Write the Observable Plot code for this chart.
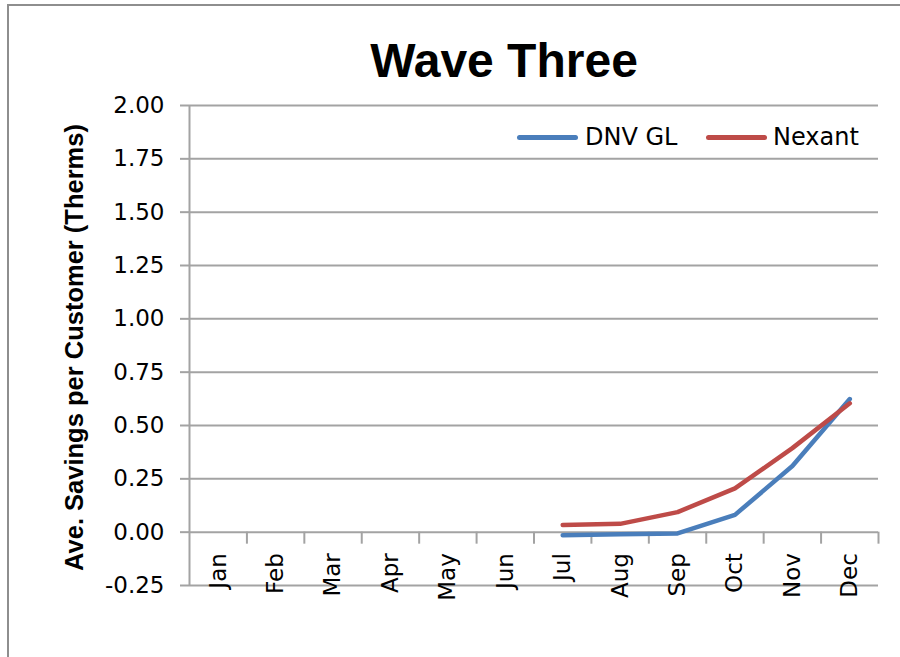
<!DOCTYPE html>
<html>
<head>
<meta charset="utf-8">
<script src="https://cdn.jsdelivr.net/npm/d3@7"></script>
<script src="https://cdn.jsdelivr.net/npm/@observablehq/plot@0.6"></script>
<style>
  html, body { margin: 0; padding: 0; background: #fff; }
  #wrap { position: relative; width: 900px; height: 657px; overflow: hidden; }
  #frame { position: absolute; left: 7px; top: 4px; width: 1000px; height: 800px;
           border-left: 2px solid #8e8e8e; border-top: 2px solid #8e8e8e; box-sizing: border-box; }
  #title { position: absolute; left: 504px; top: 37px; transform: translateX(-50%);
           font: bold 48px "Liberation Sans", Arial, sans-serif; line-height: 48px; white-space: nowrap; color: #000; }
  #chart { position: absolute; left: 0; top: 0; }
  .legend { position: absolute; top: 0; left: 0; font: 24px "DejaVu Sans", sans-serif; color: #000; }
  .legend .sw { position: absolute; height: 5px; border-radius: 3px; }
  .legend .lb { position: absolute; line-height: 24px; white-space: nowrap; }
</style>
</head>
<body>
<div id="wrap">
  <div id="frame"></div>
  <div id="title">Wave Three</div>
  <div id="chart"></div>
  <div class="legend" id="legend"></div>
</div>
<script>
// Monthly average savings per customer (therms), Wave Three
const months = ["Jan", "Feb", "Mar", "Apr", "May", "Jun", "Jul", "Aug", "Sep", "Oct", "Nov", "Dec"];
const seriesNames = ["DNV GL", "Nexant"];
const seriesColors = ["#4a7ebb", "#be4b48"];
const dnvMonths = ["Jul", "Aug", "Sep", "Oct", "Nov", "Dec"];
const dnvValues = [-0.014, -0.010, -0.006, 0.081, 0.310, 0.624];
const nexantMonths = ["Jul", "Aug", "Sep", "Oct", "Nov", "Dec"];
const nexantValues = [0.034, 0.039, 0.094, 0.205, 0.394, 0.604];
const yTicks = [-0.25, 0, 0.25, 0.5, 0.75, 1.0, 1.25, 1.5, 1.75, 2.0];
const yLabel = "Ave. Savings per Customer (Therms)";

// Each month occupies one unit on x; values sit at the middle of their month
const mid = (m) => months.indexOf(m) + 0.5;
const boundaries = months.map((m, i) => i + 1);

const rows = [
  ...dnvMonths.map((m, i) => ({series: seriesNames[0], month: m, value: dnvValues[i]})),
  ...nexantMonths.map((m, i) => ({series: seriesNames[1], month: m, value: nexantValues[i]}))
];

const gridColor = "#a3a3a3";

const chart = Plot.plot({
  width: 900,
  height: 657,
  marginLeft: 189,
  marginRight: 22,
  marginTop: 105,
  marginBottom: 72,
  style: {background: "transparent", fontFamily: "DejaVu Sans, sans-serif"},
  x: {type: "linear", domain: [0, months.length], axis: null},
  y: {domain: [-0.25, 2], axis: null},
  color: {domain: seriesNames, range: seriesColors},
  marks: [
    Plot.gridY(yTicks, {stroke: gridColor, strokeOpacity: 1, strokeWidth: 2}),
    Plot.ruleX([0], {stroke: gridColor, strokeWidth: 2}),
    // category tick marks hang below the zero line at month boundaries
    Plot.ruleX(boundaries, {y1: 0, y2: 0, insetBottom: -12, stroke: gridColor, strokeWidth: 2}),
    Plot.axisY(yTicks, {
      anchor: "left", tickSize: 9, tickPadding: 16, stroke: gridColor, strokeWidth: 2,
      fontSize: 23, fill: "#000", tickFormat: d => d.toFixed(2), label: null
    }),
    Plot.text(months, {
      x: mid, y: () => 0, text: d => d, rotate: -90, textAnchor: "end", lineAnchor: "middle",
      dy: 21, fontSize: 23, fill: "#000"
    }),
    Plot.text([yLabel], {
      frameAnchor: "left", textAnchor: "middle", rotate: -90, dx: -115, dy: 2, lineAnchor: "middle",
      fontSize: 25.5, fontWeight: "bold", fontFamily: "Liberation Sans, Arial, sans-serif", fill: "#000"
    }),
    Plot.line(rows, {
      x: d => mid(d.month), y: "value", z: "series", stroke: "series",
      strokeWidth: 4.5, strokeLinejoin: "round", strokeLinecap: "round"
    })
  ]
});
document.getElementById("chart").appendChild(chart);

// Legend entries in the upper right of the plot area
const legendItems = [
  {name: seriesNames[0], color: seriesColors[0], swLeft: 517, textLeft: 585},
  {name: seriesNames[1], color: seriesColors[1], swLeft: 706, textLeft: 773}
];
const legend = document.getElementById("legend");
for (const item of legendItems) {
  const sw = document.createElement("div");
  sw.className = "sw";
  sw.style.left = item.swLeft + "px";
  sw.style.top = "135px";
  sw.style.width = "61px";
  sw.style.background = item.color;
  legend.appendChild(sw);
  const lb = document.createElement("div");
  lb.className = "lb";
  lb.style.left = item.textLeft + "px";
  lb.style.top = "125px";
  lb.textContent = item.name;
  legend.appendChild(lb);
}
</script>
</body>
</html>
